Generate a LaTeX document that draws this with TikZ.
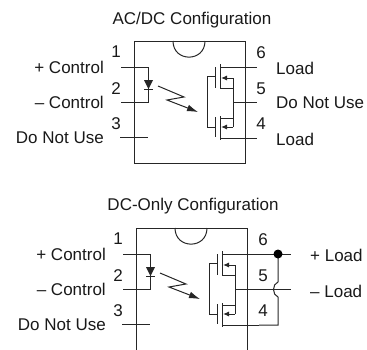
\documentclass[tikz,border=0pt]{standalone}
\usepackage{fontspec}
\setmainfont{Liberation Sans}
\usetikzlibrary{arrows.meta}
\definecolor{wire}{gray}{0.15}
\tikzset{
  wireline/.style={draw=wire,line width=1pt},
  label text/.style={font=\fontsize{17}{20}\selectfont,inner sep=0pt,text=black!90},
  bigtip/.style={-{Latex[length=11pt,width=7pt]}},
  smalltip/.style={-{Latex[length=6pt,width=5pt]}}
}
\begin{document}
\begin{tikzpicture}[x=1pt,y=-1pt]
\clip (0,0) rectangle (367,349);
% the same package twice, the lower one runs off the page
\foreach \cfg/\dx/\dy in {ac/0/0,dc/2/187}
{
\begin{scope}[shift={(\dx,\dy)}]
% pins on the package
\coordinate (\cfg-p1) at (121,67);
\coordinate (\cfg-p2) at (121,102.5);
\coordinate (\cfg-p3) at (120,137.5);
\coordinate (\cfg-ledtop) at (148,67);
\coordinate (\cfg-ledbot) at (148,102.5);
\coordinate (\cfg-p3end) at (148,137.5);
\coordinate (\cfg-p6) at (257,67);
\coordinate (\cfg-p5) at (257,102.5);
\coordinate (\cfg-p4) at (257,138);
% the package and its notch
\draw[wireline] (134,41) rectangle (245,163);
\draw[wireline] (173,41) .. controls (173,62.5) and (205,62.5) .. (205,41);
% the led
\draw[wireline] (\cfg-p1) -- (\cfg-ledtop) -- (\cfg-ledbot) -- (\cfg-p2);
\draw[wireline] (\cfg-p3) -- (\cfg-p3end);
\fill[wire] (144,80) -- (153,80) -- (148.5,89) -- cycle;
\draw[wireline] (144,89) -- (153,89);
% the light arrow
\draw[wireline,bigtip] (158,86) -- (184,97) -- (167,100) -- (198,112);
% the gate
\draw[wireline] (215,67) -- (215,88);
\draw[wireline] (215,117) -- (215,137);
\draw[wireline] (215,76) -- (207,76) -- (207,127) -- (215,127);
% the channels
\draw[wireline] (220,64) -- (220,89);
\draw[wireline] (220,116) -- (220,140);
\draw[wireline] (220,67) -- (\cfg-p6);
\draw[wireline] (220,138) -- (\cfg-p4);
\draw[wireline] (220,88) -- (233,88);
\draw[wireline] (220,118) -- (233,118);
\draw[wireline] (233,78) -- (233,127);
\draw[wireline] (233,102.5) -- (\cfg-p5);
\draw[wireline,smalltip] (233,78) -- (221,78);
\draw[wireline,smalltip] (233,127) -- (221,127);
% pin numbers
\foreach \n/\px/\py in {1/116/52,2/116/89,3/116/124,6/261/53,5/261/89,4/261/124}
  \node[label text] (\cfg-n\n) at (\px,\py) {\n};
% labels on the left
\node[label text,anchor=east] (\cfg-plus) at (104,67.5) {+ Control};
\node[label text,anchor=east] (\cfg-minus) at (104,102.5) {– Control};
\node[label text,anchor=east] (\cfg-dnu) at (104,137.5) {Do Not Use};
\end{scope}
}
% titles
\node[label text] (ac-title) at (192,20) {AC/DC Configuration};
\node[label text] (dc-title) at (193,206) {DC-Only Configuration};
% labels on the right, upper package
\node[label text,anchor=west] (ac-loada) at (276,68) {Load};
\node[label text,anchor=west] (ac-dnur) at (276,103) {Do Not Use};
\node[label text,anchor=west] (ac-loadb) at (276,139) {Load};
% the load wiring, lower package
\coordinate (dc-join) at (278,254);
\coordinate (dc-enda) at (291,254);
\coordinate (dc-endb) at (291,289.5);
\coordinate (dc-corner) at (278,325);
\draw[wireline] (dc-p6) -- (dc-enda);
\draw[wireline] (dc-p5) -- (dc-endb);
\draw[wireline] (dc-join) -- (278,282) .. controls (272,284) and (272,295) .. (278,297) -- (dc-corner) -- (dc-p4);
\fill[black] (dc-join) circle[radius=4.5pt];
\node[label text,anchor=west] (dc-loada) at (310,255) {+ Load};
\node[label text,anchor=west] (dc-loadb) at (310,291) {– Load};
\end{tikzpicture}
\end{document}
